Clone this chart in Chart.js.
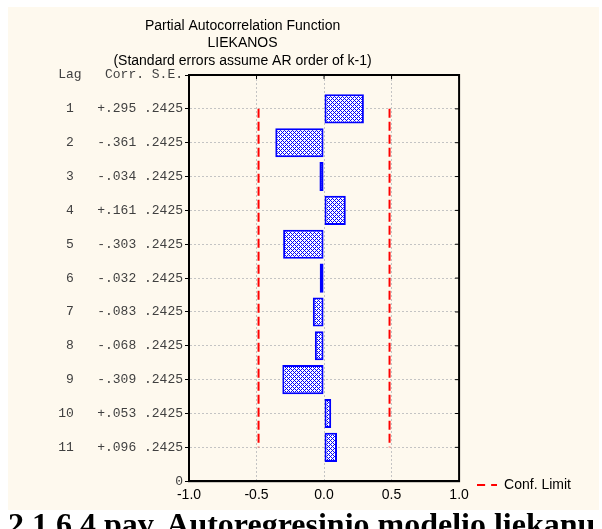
<!DOCTYPE html>
<html>
<head>
<meta charset="utf-8">
<script src="https://cdn.jsdelivr.net/npm/chart.js@4"></script>
<style>
  html, body { margin: 0; padding: 0; background: #ffffff; }
  body { width: 602px; height: 529px; overflow: hidden; position: relative; }
  #panel { position: absolute; left: 8px; top: 7px; width: 591px; height: 503px; background: #fef9ee; }
  #caption {
    position: absolute; left: 8px; top: 508px; white-space: nowrap;
    font: bold 32px/32px "Liberation Serif", "Times New Roman", serif; color: #000;
  }
</style>
</head>
<body>
<div id="panel"><canvas id="pacf" width="591" height="503"></canvas></div>
<div id="caption">2.1.6.4 pav. Autoregresinio modelio liekanų</div>
<script>
// Partial autocorrelations of the residual series, lags 1..11
const lags = [1, 2, 3, 4, 5, 6, 7, 8, 9, 10, 11];
const corrValues = [0.295, -0.361, -0.034, 0.161, -0.303, -0.032, -0.083, -0.068, -0.309, 0.053, 0.096];
const stdErrors = [0.2425, 0.2425, 0.2425, 0.2425, 0.2425, 0.2425, 0.2425, 0.2425, 0.2425, 0.2425, 0.2425];
const confLimit = 0.485;
const xTicks = [-1.0, -0.5, 0.0, 0.5, 1.0];
const titleLines = ['Partial Autocorrelation Function', 'LIEKANOS', '(Standard errors assume AR order of k-1)'];
const headerLabel = 'Lag   Corr. S.E.';
const legendLabel = 'Conf. Limit';

const RED = '#ff0000';
const BLUE = '#0000ff';

function fmtCorr(v) {
  return (v >= 0 ? '+' : '-') + Math.abs(v).toFixed(3).slice(1);
}
function fmtSE(v) {
  return v.toFixed(4).slice(1);
}
function rowLabel(i) {
  const lag = String(lags[i]).padStart(2, ' ');
  return lag + '   ' + fmtCorr(corrValues[i]) + ' ' + fmtSE(stdErrors[i]);
}

// dotted diagonal hatch used to fill the bars
function hatchPattern() {
  const c = document.createElement('canvas');
  c.width = 4; c.height = 4;
  const g = c.getContext('2d');
  g.fillStyle = '#ffffff';
  g.fillRect(0, 0, 4, 4);
  g.fillStyle = BLUE;
  [[3, 0], [2, 1], [1, 2], [0, 3], [1, 0], [3, 2]].forEach(([x, y]) => g.fillRect(x, y, 1, 1));
  return g.createPattern(c, 'repeat');
}

// short dashed red sample for the legend
function dashSample() {
  const c = document.createElement('canvas');
  c.width = 20; c.height = 4;
  const g = c.getContext('2d');
  g.strokeStyle = RED;
  g.lineWidth = 2;
  g.setLineDash([8, 6]);
  g.beginPath();
  g.moveTo(0, 2);
  g.lineTo(20, 2);
  g.stroke();
  return c;
}

const sample = dashSample();

// closes the plot box and adds the small inward ticks on top and right
const framePlugin = {
  id: 'frame',
  afterDraw(chart) {
    const { ctx, chartArea: a, scales } = chart;
    ctx.save();
    ctx.strokeStyle = '#000';
    ctx.lineWidth = 1;
    ctx.beginPath();
    scales.x.ticks.forEach(t => {
      const px = scales.x.getPixelForValue(t.value);
      ctx.moveTo(px, a.top);
      ctx.lineTo(px, a.top + 4);
    });
    lags.forEach(l => {
      const py = scales.y.getPixelForValue(l);
      ctx.moveTo(a.right, py);
      ctx.lineTo(a.right - 4, py);
    });
    ctx.stroke();
    ctx.lineWidth = 2;
    ctx.strokeRect(a.left, a.top, a.right - a.left, a.bottom - a.top);
    ctx.restore();
  }
};

// centre the title over the area left of the legend
const titleSpanPlugin = {
  id: 'titleSpan',
  afterLayout(chart) {
    const t = chart.titleBlock;
    const lg = chart.legend;
    if (t && lg) {
      t.left = 0;
      t.right = lg.left + lg.options.labels.padding;
    }
  }
};

const lowerLine = lags.map(l => ({ x: -confLimit, y: l }));
const upperLine = lags.map(l => ({ x: confLimit, y: l }));

new Chart(document.getElementById('pacf'), {
  type: 'bar',
  data: {
    datasets: [
      {
        type: 'bar',
        label: 'Corr.',
        data: lags.map((l, i) => ({ x: corrValues[i], y: l })),
        backgroundColor: hatchPattern(),
        borderColor: BLUE,
        borderWidth: 2,
        borderSkipped: false,
        barPercentage: 0.86,
        categoryPercentage: 1.0,
        order: 2
      },
      {
        type: 'line',
        label: legendLabel,
        data: lowerLine,
        borderColor: RED,
        borderWidth: 2,
        borderDash: [9, 4],
        pointRadius: 0,
        pointStyle: sample,
        fill: false,
        order: 1
      },
      {
        type: 'line',
        label: legendLabel,
        data: upperLine,
        borderColor: RED,
        borderWidth: 2,
        borderDash: [9, 4],
        pointRadius: 0,
        pointStyle: sample,
        fill: false,
        order: 1
      }
    ]
  },
  options: {
    indexAxis: 'y',
    responsive: false,
    animation: false,
    devicePixelRatio: 1,
    layout: { padding: { left: 0, right: 18, top: 0, bottom: 0 } },
    scales: {
      x: {
        type: 'linear',
        min: -1,
        max: 1,
        afterBuildTicks(scale) {
          scale.ticks = xTicks.map(v => ({ value: v }));
        },
        ticks: {
          color: '#000',
          padding: 6,
          maxRotation: 0,
          font: { family: '"Liberation Sans", Arial, sans-serif', size: 14 },
          callback: v => Number(v).toFixed(1)
        },
        grid: {
          color: '#c4c4c4',
          lineWidth: 1,
          drawTicks: false
        },
        border: { display: true, color: '#000', width: 2, dash: [2, 2] }
      },
      y: {
        type: 'linear',
        reverse: true,
        offset: false,
        min: 0,
        max: 12,
        afterBuildTicks(scale) {
          const vals = [0].concat(lags).concat([12]);
          scale.ticks = vals.map(v => ({ value: v }));
        },
        afterFit(scale) {
          scale.width = 181;
        },
        ticks: {
          color: '#404040',
          padding: 2,
          font: { family: '"Liberation Mono", "Courier New", monospace', size: 13 },
          callback: v => {
            if (v === 0) return headerLabel;
            if (v === 12) return '0';
            return rowLabel(lags.indexOf(v));
          }
        },
        grid: {
          offset: false,
          color: '#c4c4c4',
          lineWidth: 1,
          drawTicks: true,
          tickLength: 4,
          tickColor: '#000',
          tickBorderDash: []
        },
        border: { display: true, color: '#000', width: 2, dash: [2, 2] }
      }
    },
    plugins: {
      title: {
        display: true,
        text: titleLines,
        color: '#000',
        font: { family: '"Liberation Sans", Arial, sans-serif', size: 14, weight: 'normal', lineHeight: 1.25 },
        padding: { top: 10, bottom: 5.5 }
      },
      legend: {
        display: true,
        position: 'right',
        align: 'end',
        labels: {
          usePointStyle: true,
          pointStyleWidth: 20,
          padding: 18,
          color: '#000',
          font: { family: '"Liberation Sans", Arial, sans-serif', size: 14 },
          filter: item => item.datasetIndex === 1
        }
      },
      tooltip: { enabled: false }
    }
  },
  plugins: [titleSpanPlugin, framePlugin]
});
</script>
</body>
</html>
